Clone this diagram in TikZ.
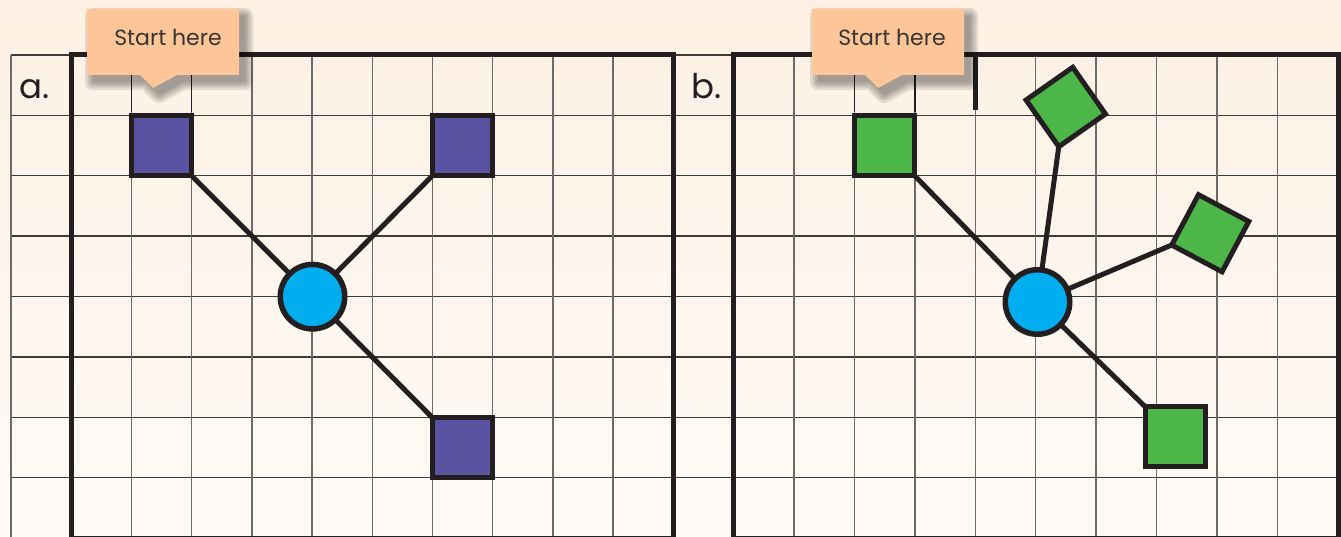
\documentclass[tikz,border=0pt]{standalone}
\usepackage{fontspec}
\setmainfont{Poppins}
\definecolor{bgtop}{HTML}{FDF0E3}
\definecolor{bgbot}{HTML}{FEFBF7}
\definecolor{gridh}{HTML}{3E3A39}
\definecolor{gridv}{HTML}{6E6A67}
\definecolor{ink}{HTML}{231F20}
\definecolor{sqpurple}{HTML}{5B52A2}
\definecolor{sqgreen}{HTML}{4CB748}
\definecolor{hub}{HTML}{00AEEF}
\definecolor{callfill}{HTML}{FDC698}
\definecolor{calltext}{HTML}{3B3531}
\begin{document}
\begin{tikzpicture}[x=1pt,y=1pt,
  hline/.style={draw=gridh, line width=1.4pt},
  vline/.style={draw=gridv, line width=1.4pt},
  frame/.style={draw=ink, line width=5pt},
  sqbox/.style={rectangle, draw=ink, line width=5pt, minimum size=60pt, inner sep=0pt, outer sep=0pt},
  sqa/.style={sqbox, fill=sqpurple},
  sqb/.style={sqbox, fill=sqgreen},
  hubnode/.style={circle, draw=ink, line width=5.5pt, fill=hub, minimum size=64.5pt, inner sep=0pt, outer sep=0pt},
  link/.style={draw=ink, line width=5pt},
  starttext/.style={text=calltext, font=\fontsize{22}{22}\selectfont, inner sep=0pt},
  lbl/.style={text=ink, font=\fontsize{34}{34}\selectfont, inner sep=0pt},
  callout/.pic={
    \foreach \w in {16,11,6,1}{
      \begin{scope}[transparency group, opacity=0.1]
        \filldraw[black, line width=\w pt, line join=round, shift={(6,-7)}]
          (0,0) -- (152,0) -- (152,-66) -- (90,-66) -- (66,-79) -- (53,-66) -- (0,-66) -- cycle;
      \end{scope}
    }
    \fill[callfill] (0,0) -- (152,0) -- (152,-66) -- (90,-66) -- (66,-79) -- (53,-66) -- (0,-66) -- cycle;
  }
]
\useasboundingbox (0,0) rectangle (1341,537);
\shade[top color=bgtop, bottom color=bgbot] (0,0) rectangle (1341,537);

% horizontal grid lines
\foreach \r in {0,...,7} \draw[hline] (11,{482-60.4*\r}) -- (1338,{482-60.4*\r});
% vertical grid lines
\foreach \c in {0,...,10} \draw[vline] ({11+60.2*\c},482) -- ({11+60.2*\c},0);
\foreach \c in {1,...,10} \draw[vline] ({673+60.45*\c},482) -- ({673+60.45*\c},0);
% darker top-row lines
\foreach \x in {131.4,191.6,854.4,914.8} \draw[draw=ink, line width=1.6pt] (\x,482) -- (\x,425);
\draw[draw=ink, line width=4.5pt] (975.3,482) -- (975.3,427);

% frames
\draw[frame] (71.2,482) rectangle (673.2,-1.4);
\draw[frame] (733.5,482) rectangle (1338,-1.4);

% panel labels
\node[lbl, anchor=base west] (la) at (19,438) {a.};
\node[lbl, anchor=base west] (lb) at (691,438) {b.};

% panel a
\node[sqa] (a1) at (161.5,391.35) {};
\node[sqa] (a2) at (462.5,391.35) {};
\node[sqa] (a3) at (462.5,89.2) {};
\node[hubnode] (ca) at (312.5,240.3) {};
\draw[link] (a1.south east) -- (ca);
\draw[link] (a2.south west) -- (ca);
\draw[link] (a3.north west) -- (ca);

% panel b
\node[sqb] (b1) at (884.6,391.35) {};
\node[sqb, minimum size=57pt, rotate=35] (b2) at (1065.75,430) {};
\node[sqb, minimum size=57pt, rotate=-28] (b3) at (1210.25,303.75) {};
\node[sqb] (b4) at (1175,100.5) {};
\node[hubnode] (cb) at (1037.5,235) {};
\draw[link] (b1.south east) -- (cb);
\draw[link] (b2.south west) -- (cb);
\draw[link] (b3.south west) -- (cb);
\draw[link] (b4.north west) -- (cb);

% callouts
\pic at (87,528) {callout};
\pic at (812,528) {callout};
\node[starttext, anchor=base] (ta) at (168,491) {Start here};
\node[starttext, anchor=base] (tb) at (892,491) {Start here};
\end{tikzpicture}
\end{document}
